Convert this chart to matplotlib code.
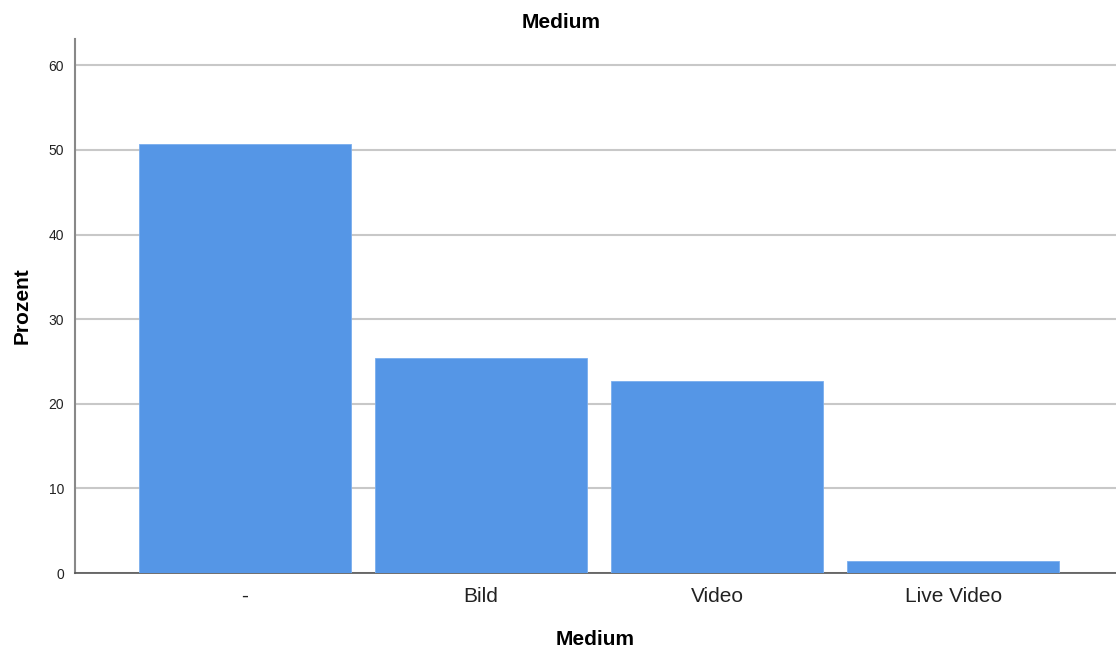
import matplotlib
matplotlib.use("Agg")
import matplotlib.pyplot as plt

plt.rcParams['font.family'] = ['Liberation Sans', 'DejaVu Sans']

# data
categories = ["-", "Bild", "Video", "Live Video"]
prozent = [50.7, 25.4, 22.7, 1.4]
yticks = [0, 10, 20, 30, 40, 50, 60]

fig = plt.figure(figsize=(11.16, 6.48), dpi=100)
ax = fig.add_axes([0.0672, 0.1157, 0.9328, 0.8241])

x = range(len(categories))
ax.bar(x, prozent, width=0.9, color='#5596e6', edgecolor='#7aaeee', linewidth=0.6, zorder=3)

ax.set_xlim(-0.72, 3.69)
ax.set_ylim(0, 63.1)
ax.set_yticks(yticks)
ax.set_xticks(list(x))
ax.set_xticklabels(categories, fontsize=15, color='#222222')
ax.tick_params(axis='y', labelsize=10, length=0, pad=8, colors='#222222')
ax.tick_params(axis='x', length=0, pad=10)
ax.yaxis.grid(True, color='#c8c8c8', linewidth=1.5, zorder=0)
ax.set_axisbelow(True)

for s in ['top', 'right']:
    ax.spines[s].set_visible(False)
ax.spines['left'].set_color('#888888')
ax.spines['left'].set_linewidth(1.5)
ax.spines['bottom'].set_color('#555555')
ax.spines['bottom'].set_linewidth(1.2)

ax.set_xlabel("Medium", fontsize=15, fontweight='bold', labelpad=17)
ax.set_ylabel("Prozent", fontsize=15, fontweight='bold', labelpad=12)
fig.text(0.503, 0.966, "Medium", ha='center', va='center', fontsize=15, fontweight='bold')

fig.savefig("out.png", dpi=100)
